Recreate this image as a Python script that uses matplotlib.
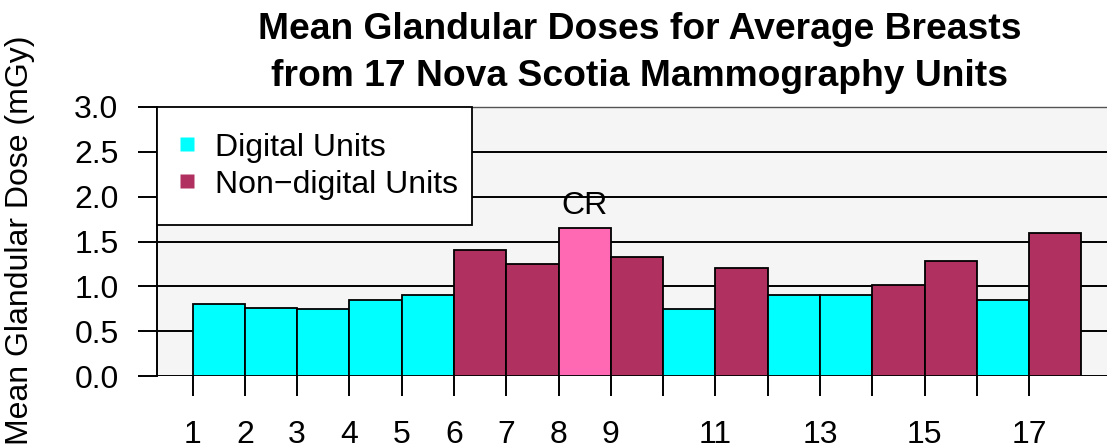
import matplotlib
matplotlib.use("Agg")
import matplotlib.pyplot as plt
from matplotlib.lines import Line2D

plt.rcParams['font.family'] = ['Liberation Sans', 'DejaVu Sans']

# ---- data ----
units = list(range(1, 18))
doses = [0.80, 0.76, 0.75, 0.85, 0.90, 1.40, 1.25, 1.65, 1.33,
         0.75, 1.20, 0.90, 0.90, 1.02, 1.28, 0.85, 1.60]
unit_type = ['digital'] * 5 + ['non'] * 2 + ['cr'] + ['non'] + ['digital'] + ['non'] \
    + ['digital'] * 2 + ['non'] * 2 + ['digital'] + ['non']
tick_labels = ['1', '2', '3', '4', '5', '6', '7', '8', '9', '', '11', '', '13', '', '15', '', '17']
yticks = [0.0, 0.5, 1.0, 1.5, 2.0, 2.5, 3.0]
title = "Mean Glandular Doses for Average Breasts\nfrom 17 Nova Scotia Mammography Units"
ylabel = "Mean Glandular Dose (mGy)"
legend_labels = ["Digital Units", "Non\u2212digital Units"]
annot_label = "CR"

colors = {'digital': '#00FFFF', 'non': '#B03060', 'cr': '#FF69B4'}

FS = 23
W, H = 1107, 446
fig = plt.figure(figsize=(W / 100, H / 100), dpi=100)
left_px, right_px, bottom_px, top_px = 157, 1117, 376, 107
ax = fig.add_axes([left_px / W, 1 - bottom_px / H, (right_px - left_px) / W, (bottom_px - top_px) / H])
ax.set_facecolor('#F5F5F5')

n = len(units)
pad = 0.04 * n
ax.set_xlim(-pad, n + pad)
ax.set_ylim(0, 3.0)

# grid lines
for yv in yticks[:-1]:
    ax.axhline(yv, color='black', lw=1.4, zorder=1)

xs = list(range(n))
ax.bar(xs, doses, width=1.0, align='edge', color=[colors[t] for t in unit_type],
       edgecolor='black', linewidth=1.3, zorder=2)

i_cr = unit_type.index('cr')
ax.text(i_cr + 0.5, doses[i_cr] + 0.16, annot_label, ha='center', va='baseline', fontsize=FS, zorder=3)

# spines
for s in ['right', 'bottom']:
    ax.spines[s].set_visible(False)
ax.spines['top'].set_linestyle((0, (1, 1)))
ax.spines['top'].set_color('#555555')
ax.spines['top'].set_linewidth(1.0)
ax.spines['left'].set_linewidth(1.4)

ax.set_yticks(yticks)
ax.set_yticklabels([f"{v:.1f}" for v in yticks])
ax.set_xticks(xs)
ax.set_xticklabels(tick_labels)
ax.tick_params(axis='y', direction='out', length=13.7, width=1.4, pad=14, labelsize=FS)
ax.tick_params(axis='x', direction='out', length=14.4, width=1.4, pad=17.5, labelsize=FS)

# legend
handles = [Line2D([], [], marker='s', linestyle='none', markersize=10.6,
                  markerfacecolor=colors['digital'], markeredgecolor='none'),
           Line2D([], [], marker='s', linestyle='none', markersize=10.6,
                  markerfacecolor=colors['non'], markeredgecolor='none')]
leg_w = (472 - left_px) / (right_px - left_px)
leg = ax.legend(handles, legend_labels, loc='upper left', bbox_to_anchor=(0, 1, leg_w, 0),
                mode='expand', borderaxespad=0, fontsize=FS, frameon=True, fancybox=False,
                borderpad=0.8, labelspacing=0.22, handlelength=0.26, handletextpad=0.76)
leg.get_frame().set_edgecolor('black')
leg.get_frame().set_linewidth(1.3)
leg.get_frame().set_facecolor('white')
leg.get_frame().set_alpha(1)
leg.set_zorder(5)

fig.text(639.5 / W, 1 - 53 / H, title, ha='center', va='center', fontsize=26.8,
         fontweight='bold', linespacing=1.42)
fig.text(20 / W, 1 - 240 / H, ylabel, rotation=90, ha='center', va='center', fontsize=FS)

fig.savefig('out.png', dpi=100)
